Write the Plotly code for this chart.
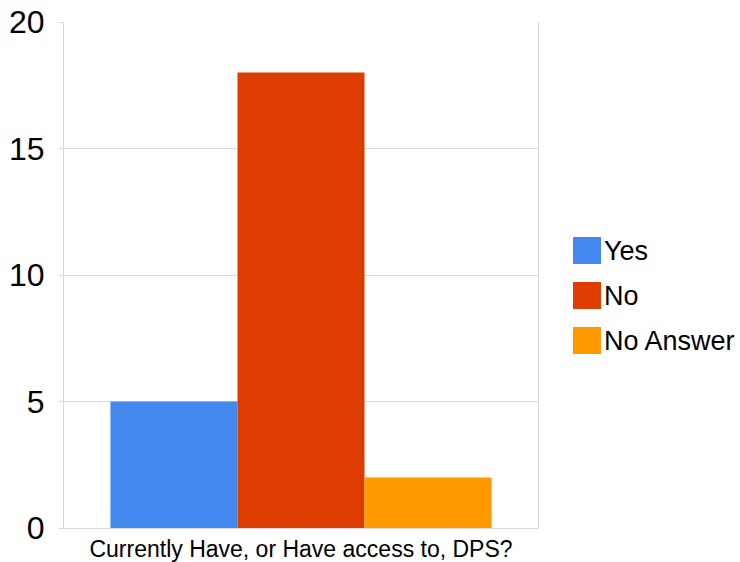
import plotly.graph_objects as go

categories = ["Currently Have, or Have access to, DPS?"]
series_names = ["Yes", "No", "No Answer"]
series_values = [[5], [18], [2]]
colors = ["#4388EE", "#DD3E00", "#FF9900"]
y_ticks = [0, 5, 10, 15, 20]

W, H = 740, 562
L, R, T, B = 64, 538, 22, 528

fig = go.Figure()
for name, vals, c in zip(series_names, series_values, colors):
    fig.add_trace(go.Bar(x=categories, y=vals, name=name, marker=dict(color=c, line=dict(width=0)),
                         showlegend=False, hoverinfo="skip"))

def px_x(p):
    return (p - L) / (R - L)

def px_y(p):
    return (B - p) / (B - T)

shapes = []
annotations = []
for i, (name, c) in enumerate(zip(series_names, colors)):
    top = 237 + 45 * i
    shapes.append(dict(type="rect", xref="paper", yref="paper",
                       x0=px_x(573), x1=px_x(601), y0=px_y(top + 27), y1=px_y(top),
                       fillcolor=c, line=dict(width=0)))
    annotations.append(dict(xref="paper", yref="paper", x=px_x(602), y=px_y(top + 14),
                            text=name, showarrow=False, xanchor="left", yanchor="middle",
                            font=dict(size=27, color="#000000")))

fig.update_layout(
    width=W, height=H,
    margin=dict(l=L, r=W - R, t=T, b=H - B, pad=0),
    paper_bgcolor="white", plot_bgcolor="white",
    barmode="group", bargap=0.196, bargroupgap=0,
    font=dict(family="Liberation Sans, Arial, sans-serif", color="#000000"),
    shapes=shapes, annotations=annotations,
    xaxis=dict(showgrid=False, showline=True, linecolor="#d9d9d9", linewidth=1,
               tickfont=dict(size=23), ticks="", ticklabelstandoff=0, automargin=False),
    yaxis=dict(range=[0, 20], tickvals=y_ticks, showgrid=True, gridcolor="#d9d9d9",
               showline=True, mirror=True, linecolor="#d9d9d9", linewidth=1,
               ticks="outside", ticklen=4, tickcolor="#d9d9d9", automargin=False,
               tickfont=dict(size=32), ticklabelstandoff=8, zeroline=False),
)

fig.write_html("out.html", config={"displayModeBar": False, "staticPlot": True},
               post_script="document.body.style.margin='0';document.body.style.overflow='hidden';")
